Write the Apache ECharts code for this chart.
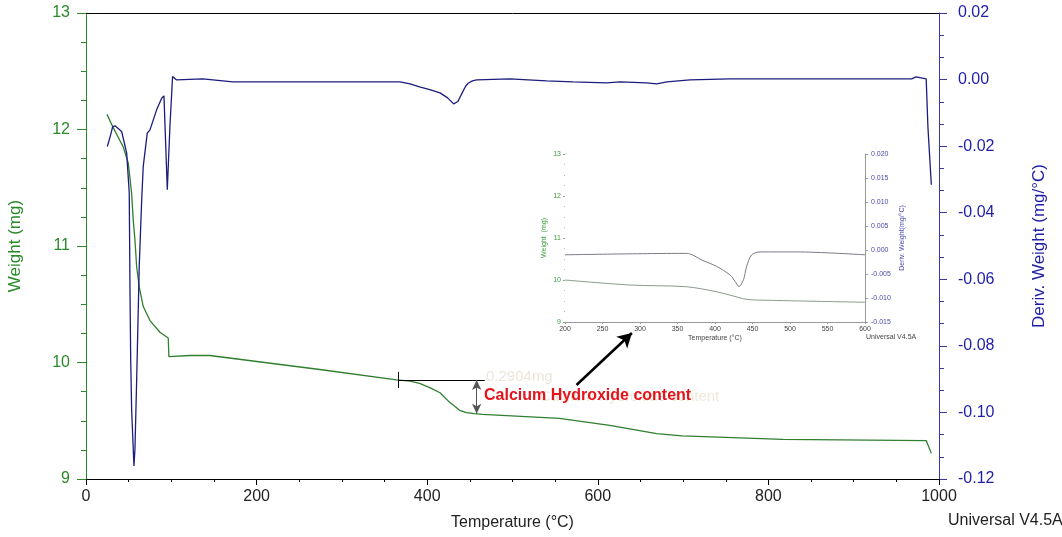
<!DOCTYPE html>
<html>
<head>
<meta charset="utf-8">
<script src="https://cdn.jsdelivr.net/npm/echarts@6/dist/echarts.min.js"></script>
<style>
html,body{margin:0;padding:0;background:#fff;}
#c{width:1062px;height:537px;}
</style>
</head>
<body>
<div id="c"></div>
<script>
// ---- Main chart data ----
const weightT  = [24.6, 31.6, 43.7, 49.6, 53.5, 55.4, 57.4, 59.4, 62.4, 67.1, 75, 86.7, 96.4, 97.2, 121.9, 145, 274, 364, 380, 391, 403, 415, 426, 433, 438, 446, 455, 465, 555, 614, 669, 699, 817, 985, 991];
const weightMg = [12.13, 12.02, 11.85, 11.71, 11.45, 11.22, 11.05, 10.82, 10.65, 10.48, 10.36, 10.26, 10.21, 10.05, 10.06, 10.06, 9.94, 9.85, 9.84, 9.82, 9.785, 9.74, 9.66, 9.62, 9.59, 9.57, 9.562, 9.555, 9.52, 9.46, 9.39, 9.37, 9.34, 9.33, 9.22];

const derivT = [25, 28.9, 31.3, 34, 41.8, 47.7, 50.7, 51.6, 52.4, 53.5, 56.2, 57.4, 59.4, 62.4, 65.3, 67.1, 71.8, 75, 82.8, 88.7, 91.4, 95.3, 98.4, 101.5, 106.2, 137, 172, 368, 380, 391, 403, 415, 424, 431, 436, 441, 445, 448, 453, 458, 497, 540, 571, 610, 626, 657, 669, 681, 708, 755, 968, 973, 985, 987, 991];
const derivV = [-0.0201, -0.0166, -0.0141, -0.0139, -0.0156, -0.0221, -0.0341, -0.0641, -0.0841, -0.0991, -0.1161, -0.111, -0.0902, -0.0562, -0.0361, -0.0261, -0.0161, -0.0151, -0.0091, -0.0056, -0.0049, -0.0331, -0.0141, 0.0009, -0.0001, 0.0002, -0.0007, -0.0007, -0.0013, -0.0022, -0.0030, -0.0040, -0.0055, -0.0073, -0.0066, -0.0040, -0.0020, -0.0011, -0.0004, -0.0001, 0.0002, -0.0004, -0.0007, -0.0010, -0.0007, -0.0010, -0.0013, -0.0007, -0.0001, 0.0002, 0.0002, 0.0008, 0.0002, -0.0142, -0.0316];

// ---- Inset data (200–600 °C zoom) ----
const insetWT  = [200, 287, 362, 402, 420, 442, 464, 600];
const insetWMg = [10.0, 9.88, 9.84, 9.72, 9.64, 9.54, 9.52, 9.47];
const insetDT  = [200, 362, 384, 402, 420, 427, 432, 438, 442, 449, 460, 509, 600];
const insetDV  = [-0.0010, -0.0007, -0.0022, -0.0034, -0.0052, -0.0066, -0.0076, -0.0062, -0.0035, -0.0010, -0.0004, -0.0004, -0.0010];

// ---- Axis ticks ----
const mainXTicks = [0, 200, 400, 600, 800, 1000];
const mainWeightTicks = [9, 10, 11, 12, 13];

// ---- Annotation (data coordinates) ----
const caOHTop = 9.85, caOHBottom = 9.56, caOHStartT = 365.6, caOHEndT = 467.5, caOHArrowT = 458;
const pointerFrom = [575, 9.807], pointerTo = [640, 10.253];

const zip = (a, b) => a.map((v, i) => [v, b[i]]);

const FONT = '"Liberation Sans", Arial, sans-serif';
const GREEN = '#2a8a2a', BLUE = '#1e1ea8', NAVY = '#1c1c7e';

const chart = echarts.init(document.getElementById('c'), null, {renderer: 'canvas'});
chart.setOption({
  animation: false,
  backgroundColor: '#fff',
  textStyle: {fontFamily: FONT},
  grid: [
    {left: 86, right: 123, top: 13, bottom: 58, show: false, containLabel: false, outerBoundsMode: 'none'},
    {left: 565, right: 197, top: 154, bottom: 215, show: true, backgroundColor: '#fff', borderWidth: 0, containLabel: false, outerBoundsMode: 'none', z: 5}
  ],
  xAxis: [
    {
      type: 'value', gridIndex: 0, min: 0, max: 1000, interval: 200,
      name: 'Temperature (°C)', nameLocation: 'middle', nameGap: 36,
      nameTextStyle: {color: '#222', fontSize: 16, fontFamily: FONT},
      axisLine: {show: true, onZero: false, lineStyle: {color: '#000', width: 1}},
      axisTick: {show: true, inside: false, length: 6, lineStyle: {color: '#000'}},
      minorTick: {show: true, splitNumber: 4, length: 3, lineStyle: {color: '#000'}},
      splitLine: {show: false},
      axisLabel: {color: '#222', fontSize: 16, margin: 10, fontFamily: FONT,
        formatter: v => mainXTicks.includes(v) ? String(v) : ''}
    },
    {
      type: 'value', gridIndex: 1, min: 200, max: 600, interval: 50,
      name: 'Temperature (°C)', nameLocation: 'middle', nameGap: 13,
      nameTextStyle: {color: '#444', fontSize: 7, fontFamily: FONT},
      axisLine: {show: true, onZero: false, lineStyle: {color: '#999'}},
      axisTick: {show: true, length: 2, lineStyle: {color: '#999'}},
      splitLine: {show: false},
      axisLabel: {color: '#444', fontSize: 7, margin: 4, fontFamily: FONT}
    },
    {
      type: 'value', gridIndex: 0, position: 'top', min: 0, max: 1000,
      axisLine: {show: true, onZero: false, lineStyle: {color: '#000', width: 1}},
      axisTick: {show: false}, axisLabel: {show: false}, splitLine: {show: false}
    },
    {
      type: 'value', gridIndex: 1, position: 'top', min: 200, max: 600,
      axisLine: {show: true, onZero: false, lineStyle: {color: '#c8c8c8', width: 1}},
      axisTick: {show: false}, axisLabel: {show: false}, splitLine: {show: false}
    }
  ],
  yAxis: [
    {
      type: 'value', gridIndex: 0, position: 'left', min: 9, max: 13, interval: 1,
      name: 'Weight (mg)', nameLocation: 'middle', nameGap: 62, nameRotate: 90,
      nameTextStyle: {color: GREEN, fontSize: 17, fontFamily: FONT},
      axisLine: {show: true, onZero: false, lineStyle: {color: GREEN, width: 1}},
      axisTick: {show: true, length: 9, lineStyle: {color: GREEN}},
      minorTick: {show: true, splitNumber: 4, length: 5, lineStyle: {color: GREEN}},
      splitLine: {show: false},
      axisLabel: {color: GREEN, fontSize: 16, margin: 16, fontFamily: FONT,
        formatter: v => mainWeightTicks.includes(v) ? String(v) : ''}
    },
    {
      type: 'value', gridIndex: 0, position: 'right', min: -0.12, max: 0.02, interval: 0.02,
      name: 'Deriv. Weight (mg/°C)', nameLocation: 'middle', nameGap: 92, nameRotate: 90,
      nameTextStyle: {color: BLUE, fontSize: 17, fontFamily: FONT},
      axisLine: {show: true, onZero: false, lineStyle: {color: '#3a3aa0', width: 1}},
      axisTick: {show: true, length: 8, lineStyle: {color: '#3a3aa0'}},
      minorTick: {show: true, splitNumber: 3, length: 5, lineStyle: {color: '#3a3aa0'}},
      splitLine: {show: false},
      axisLabel: {color: BLUE, fontSize: 16, margin: 19, fontFamily: FONT,
        formatter: v => v.toFixed(2).replace('-0.00', '0.00')}
    },
    {
      type: 'value', gridIndex: 1, position: 'left', min: 9, max: 13, interval: 1,
      name: 'Weight  (mg)', nameLocation: 'middle', nameGap: 17, nameRotate: 90,
      nameTextStyle: {color: '#3a9a3a', fontSize: 7, fontFamily: FONT},
      axisLine: {show: true, onZero: false, lineStyle: {color: '#999'}},
      axisTick: {show: true, length: 2, lineStyle: {color: '#999'}},
      minorTick: {show: true, splitNumber: 4, length: 1, lineStyle: {color: '#bbb'}},
      splitLine: {show: false},
      axisLabel: {color: '#3a9a3a', fontSize: 7, margin: 4, fontFamily: FONT}
    },
    {
      type: 'value', gridIndex: 1, position: 'right', min: -0.015, max: 0.020, interval: 0.005,
      name: 'Deriv. Weight(mg/°C)', nameLocation: 'middle', nameGap: 34, nameRotate: 90,
      nameTextStyle: {color: '#4a4aa8', fontSize: 7, fontFamily: FONT},
      axisLine: {show: true, onZero: false, lineStyle: {color: '#999'}},
      axisTick: {show: true, length: 3, lineStyle: {color: '#999'}},
      splitLine: {show: false},
      axisLabel: {color: '#4a4aa8', fontSize: 7, margin: 6, fontFamily: FONT,
        formatter: v => (Math.abs(v) < 1e-9 ? 0 : v).toFixed(3)}
    }
  ],
  series: [
    {
      type: 'line', name: 'Weight', xAxisIndex: 0, yAxisIndex: 0,
      data: zip(weightT, weightMg), showSymbol: false, smooth: false,
      lineStyle: {color: '#2f7f2f', width: 1.3}, z: 3,
      markLine: {
        silent: true, animation: false, symbol: ['none', 'none'], label: {show: false},
        data: [
          [{coord: [caOHStartT, caOHTop], lineStyle: {color: '#000', width: 1, type: 'solid'}}, {coord: [caOHEndT, caOHTop]}],
          [{coord: [caOHStartT, 9.92], lineStyle: {color: '#000', width: 1, type: 'solid'}}, {coord: [caOHStartT, 9.78]}],
          [{coord: [caOHArrowT, caOHTop], symbol: 'arrow', symbolSize: [7, 10], lineStyle: {color: '#555', width: 1, type: 'solid'}},
           {coord: [caOHArrowT, caOHBottom], symbol: 'arrow', symbolSize: [7, 10]}],
          [{coord: pointerFrom, lineStyle: {color: '#000', width: 2.5, type: 'solid'}},
           {coord: pointerTo, symbol: 'arrow', symbolSize: [12, 14]}]
        ]
      }
    },
    {
      type: 'line', name: 'Deriv', xAxisIndex: 0, yAxisIndex: 1,
      data: zip(derivT, derivV), showSymbol: false, smooth: false,
      lineStyle: {color: NAVY, width: 1.3}, z: 3
    },
    {
      type: 'line', name: 'Inset Weight', xAxisIndex: 1, yAxisIndex: 2,
      data: zip(insetWT, insetWMg), showSymbol: false, smooth: 0.3,
      lineStyle: {color: '#8a9a8a', width: 1}, z: 6
    },
    {
      type: 'line', name: 'Inset Deriv', xAxisIndex: 1, yAxisIndex: 3,
      data: zip(insetDT, insetDV), showSymbol: false, smooth: 0.3,
      lineStyle: {color: '#7a7a88', width: 1}, z: 6
    }
  ],
  graphic: [
    {type: 'text', left: 948, top: 513, z: 10,
     style: {text: 'Universal V4.5A', fill: '#222', font: '16px ' + FONT}},
    {type: 'text', left: 866, top: 334, z: 10,
     style: {text: 'Universal V4.5A', fill: '#444', font: '7px ' + FONT}},
    {type: 'text', left: 486, top: 369, z: 9,
     style: {text: '0.2904mg', fill: '#ece6dc', font: '15px ' + FONT}},
    {type: 'text', left: 540, top: 389, z: 9,
     style: {text: 'Calcium Hydroxide content', fill: '#efe7da', font: '15px ' + FONT}},
    {type: 'text', left: 484, top: 388, z: 11,
     style: {text: 'Calcium Hydroxide content', fill: '#e3141c', font: 'bold 16px ' + FONT}}
  ]
});
</script>
</body>
</html>
